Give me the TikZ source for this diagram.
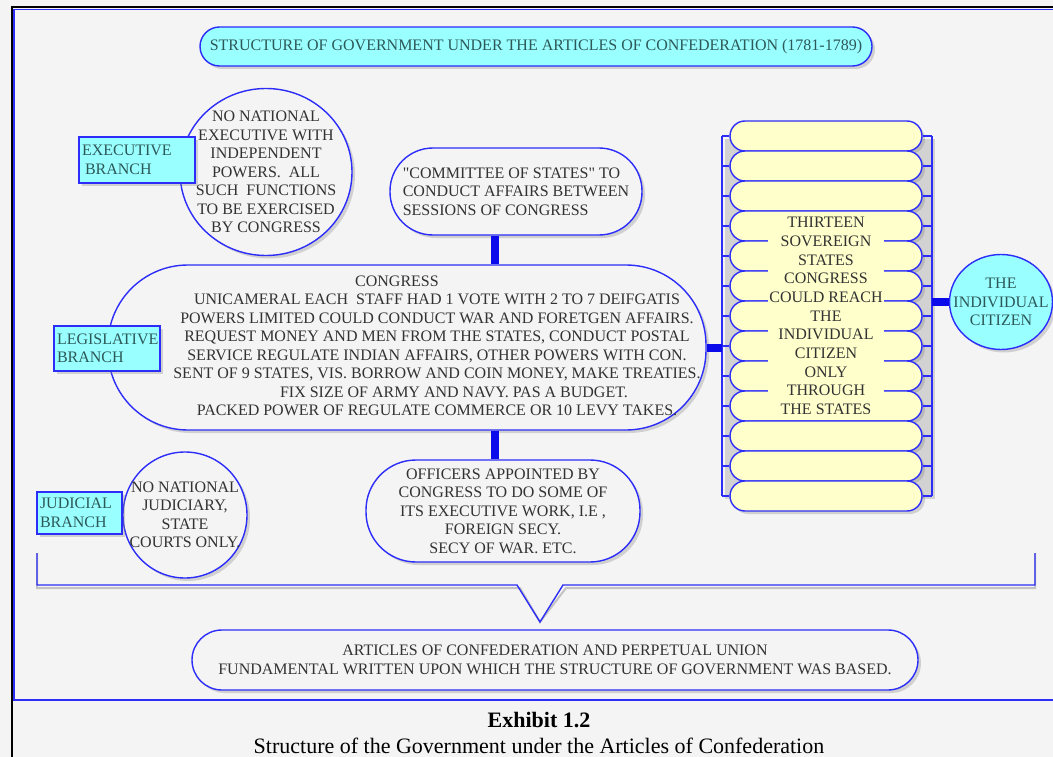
\documentclass[tikz,border=0pt]{standalone}
\usepackage{fontspec}
\setmainfont[Ligatures=TeXOff]{Liberation Serif}
\usetikzlibrary{shapes.geometric,shadows}
\definecolor{lineblue}{RGB}{45,45,250}
\definecolor{barblue}{RGB}{10,10,235}
\definecolor{cyanfill}{RGB}{153,255,255}
\definecolor{stateyellow}{RGB}{255,255,204}
\definecolor{paper}{RGB}{244,244,244}
\definecolor{inkgray}{RGB}{50,50,50}
\definecolor{inkteal}{RGB}{45,88,88}

\begin{document}
\begin{tikzpicture}[x=1pt, y=-1pt,
	every node/.style={font=\fontsize{16}{18.5}\selectfont, text=inkgray},
	softshadow/.style={drop shadow={shadow xshift=3pt, shadow yshift=-3pt, opacity=.3}},
	pill/.style={draw=lineblue, line width=1.4pt, fill=paper, rounded corners=#1, inner sep=0pt, align=center, softshadow},
	oval/.style={ellipse, draw=lineblue, line width=1.4pt, fill=paper, align=center, softshadow},
	branch/.style={draw=lineblue, line width=1.4pt, fill=cyanfill, text=inkteal, align=left, inner sep=3pt, softshadow},
	bar/.style={barblue, line width=8pt},
	wire/.style={lineblue, line width=1.4pt}]
	% page and frame
	\fill[paper] (0,0) rectangle (1053,757);
	\useasboundingbox (0,0) rectangle (1053,757);
	\draw[black, line width=1.6pt] (12,757) -- (12,7) -- (1053,7);
	\draw[lineblue, line width=1.2pt] (14,700) -- (14,9.5) -- (1053,9.5);
	\draw[lineblue, line width=1.4pt] (13,700) -- (1053,700);
	% title
	\node[pill=19.5pt, fill=cyanfill, text=inkteal, minimum width=672pt, minimum height=39pt] (title) at (536,46.5)
		{STRUCTURE OF GOVERNMENT UNDER THE ARTICLES OF CONFEDERATION (1781-1789)};
	% executive
	\node[oval, minimum width=172pt, minimum height=167pt, inner sep=-22pt] (execoval) at (266,172)
		{NO NATIONAL\\EXECUTIVE WITH\\INDEPENDENT\\POWERS.\ \ ALL\\SUCH\ \ FUNCTIONS\\TO BE EXERCISED\\BY CONGRESS};
	\node[branch, text width=110pt, minimum height=46pt] (execbox) at (137,160) {EXECUTIVE\\\hspace*{3pt}BRANCH};
	% committee and congress
	\node[pill=43pt, minimum width=252pt, minimum height=87pt, align=left] (committee) at (516,191.5)
		{"COMMITTEE OF STATES" TO\\CONDUCT AFFAIRS BETWEEN\\SESSIONS OF CONGRESS};
	\node[pill=80pt, minimum width=598pt, minimum height=165pt] (congress) at (407,347.5)
		{\hspace*{60pt}\begin{tabular}{@{}c@{}}
		CONGRESS\hspace*{80pt}\\
		UNICAMERAL EACH\ \ STAFF HAD 1 VOTE WITH 2 TO 7 DEIFGATIS\\
		POWERS LIMITED COULD CONDUCT WAR AND FORETGEN AFFAIRS.\\
		REQUEST MONEY AND MEN FROM THE STATES, CONDUCT POSTAL\\
		SERVICE REGULATE INDIAN AFFAIRS, OTHER POWERS WITH CON.\\
		SENT OF 9 STATES, VIS. BORROW AND COIN MONEY, MAKE TREATIES.\\
		\hspace*{34pt}FIX SIZE OF ARMY AND NAVY. PAS A BUDGET.\\
		PACKED POWER OF REGULATE COMMERCE OR 10 LEVY TAKES.
		\end{tabular}};
	\node[branch, text width=100pt, minimum height=45pt] (legbox) at (107,348.5) {LEGISLATIVE\\BRANCH};
	% judicial and officers
	\node[oval, minimum width=124pt, minimum height=126pt, inner sep=-16pt] (judoval) at (185,515)
		{NO NATIONAL\\JUDICIARY,\\STATE\\COURTS ONLY.};
	\node[branch, text width=79pt, minimum height=42pt] (judbox) at (79.5,513) {JUDICIAL\\BRANCH};
	\node[pill=50pt, minimum width=274pt, minimum height=102pt] (officers) at (503,511)
		{OFFICERS APPOINTED BY\\CONGRESS TO DO SOME OF\\ITS EXECUTIVE WORK, I.E ,\\FOREIGN SECY.\\SECY OF WAR. ETC.};
	% thirteen states
	\coordinate (stl) at (722,0);
	\coordinate (str) at (932,0);
	\fill[gray!35] (725,139) rectangle (935,499);
	\foreach \i in {0,...,12}
		\node[pill=15pt, fill=stateyellow, minimum width=192pt, minimum height=30pt] (st\i) at (826,{136+30*\i}) {};
	\draw[wire] (st0.west -| stl) -- (st12.west -| stl);
	\draw[wire] (st0.east -| str) -- (st12.east -| str);
	\foreach \i in {0,...,12} {
		\draw[wire] (st\i.west -| stl) -- (st\i.west);
		\draw[wire] (st\i.east) -- (st\i.east -| str);
	}
	\node[fill=stateyellow, inner sep=1pt, align=center, font=\fontsize{16}{18.7}\selectfont] (statestext) at (826,316)
		{THIRTEEN\\SOVEREIGN\\STATES\\CONGRESS\\COULD REACH\\THE\\INDIVIDUAL\\CITIZEN\\ONLY\\THROUGH\\THE STATES};
	\node[oval, fill=cyanfill, text=inkteal, minimum width=103pt, minimum height=95pt, inner sep=-14pt] (citizen) at (1001,302)
		{THE\\INDIVIDUAL\\CITIZEN};
	% links
	\coordinate (cbar) at (495,0);
	\draw[bar] (committee.south -| cbar) -- (congress.north -| cbar);
	\draw[bar] (congress.south -| cbar) -- (officers.north -| cbar);
	\draw[bar] (congress.east) -- (congress.east -| stl);
	\draw[bar] (citizen.west) -- (citizen.west -| str);
	% bracket and articles
	\coordinate (bl) at (37,553);
	\coordinate (br) at (1035,553);
	\coordinate (tip) at (540,622);
	\draw[black, opacity=.2, line width=2pt, shift={(3,3)}] (bl) |- (517,585) -- (tip) -- (563,585) -| (br);
	\draw[wire] (bl) |- (517,585) -- (tip) -- (563,585) -| (br);
	\node[pill=30pt, minimum width=726pt, minimum height=60pt] (articles) at (555,660)
		{ARTICLES OF CONFEDERATION AND PERPETUAL UNION\\FUNDAMENTAL WRITTEN UPON WHICH THE STRUCTURE OF GOVERNMENT WAS BASED.};
	% caption
	\node[anchor=north, inner sep=0pt, align=center, text=black, font=\fontsize{22}{26}\selectfont] (caption) at (539,712)
		{\textbf{Exhibit 1.2}\\Structure of the Government under the Articles of Confederation};
\end{tikzpicture}
\end{document}
